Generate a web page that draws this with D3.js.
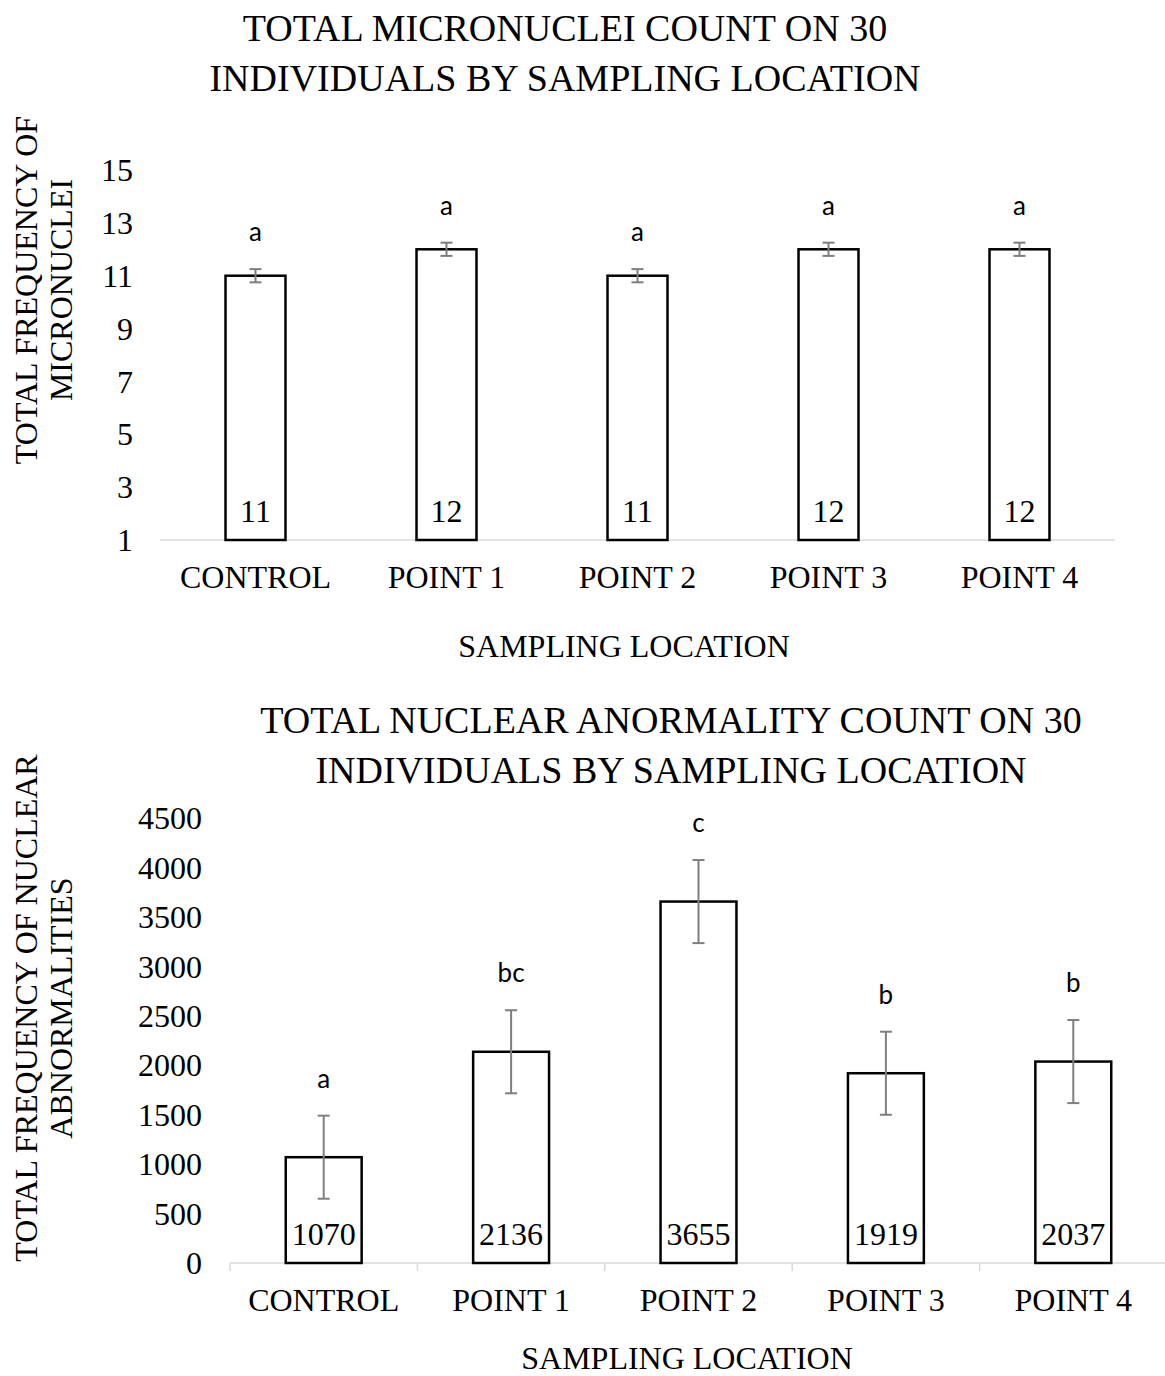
<!DOCTYPE html>
<html>
<head>
<meta charset="utf-8">
<script src="https://cdn.jsdelivr.net/npm/d3@7"></script>
<style>
  body { margin: 0; background: #fff; }
  text { font-family: "Liberation Serif", "Times New Roman", serif; fill: #000; }
  .sig { font-family: "Lato", "Open Sans", sans-serif; }
</style>
</head>
<body>
<script>
// data
var locations = ["CONTROL", "POINT 1", "POINT 2", "POINT 3", "POINT 4"]
var micronuclei = [11, 12, 11, 12, 12]
var micronucleiErr = [0.25, 0.25, 0.25, 0.25, 0.25]
var micronucleiSig = ["a", "a", "a", "a", "a"]
var micronucleiTicks = [1, 3, 5, 7, 9, 11, 13, 15]

var anomalies = [1070, 2136, 3655, 1919, 2037]
var anomaliesErr = [420, 420, 420, 420, 420]
var anomaliesSig = ["a", "bc", "c", "b", "b"]
var anomaliesTicks = [0, 500, 1000, 1500, 2000, 2500, 3000, 3500, 4000, 4500]

var svg = d3.select("body").append("svg")
  .attr("width", 1165)
  .attr("height", 1376)

function drawChart(cfg) {
  var x = d3.scaleBand()
    .domain(locations)
    .range([cfg.x0, cfg.x1])
    .paddingInner(cfg.pad)
    .paddingOuter(cfg.pad / 2)

  var y = d3.scaleLinear()
    .domain(cfg.domain)
    .range([cfg.y0, cfg.y1])

  var g = svg.append("g")

  // titles
  g.selectAll(".title")
    .data(cfg.title)
    .enter().append("text")
    .attr("x", cfg.titleX)
    .attr("y", function(d, i) { return cfg.titleY + i * 50 })
    .attr("text-anchor", "middle")
    .style("font-size", "38px")
    .text(function(d) { return d })

  // y tick labels (no axis line)
  g.selectAll(".ytick")
    .data(cfg.ticks)
    .enter().append("text")
    .attr("x", cfg.tickX)
    .attr("y", function(d) { return y(d) })
    .attr("dy", "0.35em")
    .attr("text-anchor", "end")
    .style("font-size", "32px")
    .text(function(d) { return d })

  // x axis
  var xAxis = d3.axisBottom(x).tickSize(0).tickFormat("")
  var ax = g.append("g")
    .attr("transform", "translate(0," + cfg.y0 + ")")
    .call(xAxis)
  ax.select(".domain").attr("stroke", "#d9d9d9").attr("stroke-width", 1.5)
    .attr("d", "M" + cfg.x0 + ",0H" + cfg.x1)
  if (cfg.xTicks) {
    var step = x.step()
    var bounds = d3.range(locations.length + 1).map(function(i) { return cfg.x0 + i * step })
    ax.selectAll(".sep")
      .data(bounds)
      .enter().append("line")
      .attr("x1", function(d) { return d })
      .attr("x2", function(d) { return d })
      .attr("y1", 0).attr("y2", 8)
      .attr("stroke", "#d9d9d9").attr("stroke-width", 1.5)
  }

  // category labels
  g.selectAll(".cat")
    .data(locations)
    .enter().append("text")
    .attr("x", function(d) { return x(d) + x.bandwidth() / 2 })
    .attr("y", cfg.y0 + 48)
    .attr("text-anchor", "middle")
    .style("font-size", "32px")
    .text(function(d) { return d })

  // x axis title
  g.append("text")
    .attr("x", cfg.xTitleX)
    .attr("y", cfg.y0 + cfg.xTitleDy)
    .attr("text-anchor", "middle")
    .style("font-size", "32px")
    .text("SAMPLING LOCATION")

  // y axis title
  g.selectAll(".ytitle")
    .data(cfg.yTitle)
    .enter().append("text")
    .attr("transform", function(d, i) {
      return "translate(" + (37 + i * 35) + "," + cfg.yTitleY + ") rotate(-90)"
    })
    .attr("text-anchor", "middle")
    .style("font-size", "32px")
    .text(function(d) { return d })

  // bars
  g.selectAll(".bar")
    .data(cfg.values)
    .enter().append("rect")
    .attr("x", function(d, i) { return x(locations[i]) })
    .attr("y", function(d) { return y(d) })
    .attr("width", x.bandwidth())
    .attr("height", function(d) { return cfg.y0 - y(d) })
    .attr("fill", "#fff")
    .attr("stroke", "#000")
    .attr("stroke-width", 2.5)

  // error bars
  var eb = g.selectAll(".err")
    .data(cfg.values)
    .enter().append("g")
    .attr("stroke", "#7f7f7f")
    .attr("stroke-width", 2)
  eb.append("line")
    .attr("x1", function(d, i) { return x(locations[i]) + x.bandwidth() / 2 })
    .attr("x2", function(d, i) { return x(locations[i]) + x.bandwidth() / 2 })
    .attr("y1", function(d, i) { return y(d + cfg.err[i]) })
    .attr("y2", function(d, i) { return y(d - cfg.err[i]) })
  eb.append("line")
    .attr("x1", function(d, i) { return x(locations[i]) + x.bandwidth() / 2 - 6 })
    .attr("x2", function(d, i) { return x(locations[i]) + x.bandwidth() / 2 + 6 })
    .attr("y1", function(d, i) { return y(d + cfg.err[i]) })
    .attr("y2", function(d, i) { return y(d + cfg.err[i]) })
  eb.append("line")
    .attr("x1", function(d, i) { return x(locations[i]) + x.bandwidth() / 2 - 6 })
    .attr("x2", function(d, i) { return x(locations[i]) + x.bandwidth() / 2 + 6 })
    .attr("y1", function(d, i) { return y(d - cfg.err[i]) })
    .attr("y2", function(d, i) { return y(d - cfg.err[i]) })

  // significance letters
  g.selectAll(".sig")
    .data(cfg.sig)
    .enter().append("text")
    .attr("class", "sig")
    .attr("x", function(d, i) { return x(locations[i]) + x.bandwidth() / 2 })
    .attr("y", function(d, i) { return y(cfg.values[i] + cfg.err[i]) - 28 })
    .attr("text-anchor", "middle")
    .style("font-size", "26px")
    .text(function(d) { return d })

  // value labels
  g.selectAll(".val")
    .data(cfg.values)
    .enter().append("text")
    .attr("x", function(d, i) { return x(locations[i]) + x.bandwidth() / 2 })
    .attr("y", cfg.y0 - 18)
    .attr("text-anchor", "middle")
    .style("font-size", "32px")
    .text(function(d) { return d })
}

drawChart({
  values: micronuclei, err: micronucleiErr, sig: micronucleiSig, ticks: micronucleiTicks,
  domain: [1, 15], y0: 540, y1: 170, x0: 160, x1: 1115, pad: 0.686,
  tickX: 133, xTicks: false,
  title: ["TOTAL MICRONUCLEI COUNT ON 30", "INDIVIDUALS BY SAMPLING LOCATION"],
  titleX: 565, titleY: 41,
  yTitle: ["TOTAL FREQUENCY OF", "MICRONUCLEI"], yTitleY: 290,
  xTitleX: 624, xTitleDy: 117
})

drawChart({
  values: anomalies, err: anomaliesErr, sig: anomaliesSig, ticks: anomaliesTicks,
  domain: [0, 4500], y0: 1263, y1: 818, x0: 230, x1: 1167, pad: 0.595,
  tickX: 202, xTicks: true,
  title: ["TOTAL NUCLEAR ANORMALITY COUNT ON 30", "INDIVIDUALS BY SAMPLING LOCATION"],
  titleX: 671, titleY: 733,
  yTitle: ["TOTAL FREQUENCY OF NUCLEAR", "ABNORMALITIES"], yTitleY: 1008,
  xTitleX: 687, xTitleDy: 106
})
</script>
</body>
</html>
